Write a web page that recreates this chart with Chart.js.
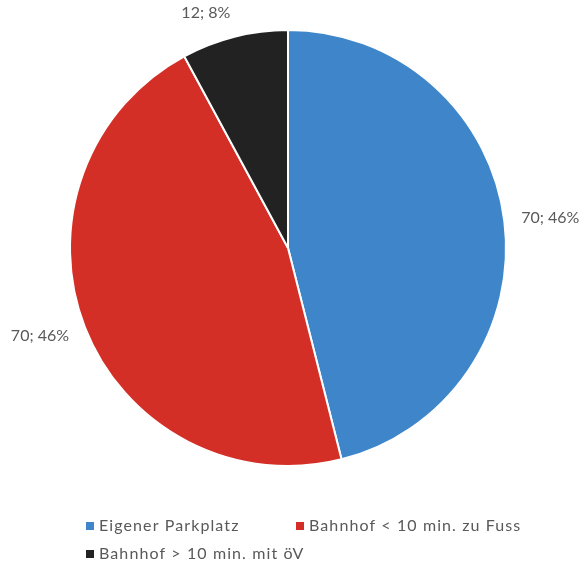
<!DOCTYPE html>
<html>
<head>
<meta charset="utf-8">
<script src="https://cdn.jsdelivr.net/npm/chart.js@4"></script>
<style>
  html, body { margin: 0; padding: 0; background: #fff; }
  #wrap { width: 584px; height: 568px; }
</style>
</head>
<body>
<div id="wrap"><canvas id="chart" width="584" height="568"></canvas></div>
<script>
// Anbindung: Anzahl Antworten je Kategorie
const categories = ['Eigener Parkplatz', 'Bahnhof < 10 min. zu Fuss', 'Bahnhof > 10 min. mit öV'];
const counts = [70, 70, 12];
const colors = ['#3e86c9', '#d42f27', '#222222'];

const total = counts.reduce((a, v) => a + v, 0);
const textColor = '#595959';

// value; percent labels outside each slice
const outsideLabels = {
    id: 'outsideLabels',
    afterDatasetsDraw(chart) {
        const ctx = chart.ctx;
        const meta = chart.getDatasetMeta(0);
        ctx.save();
        ctx.font = '16px Lato, sans-serif';
        ctx.fillStyle = textColor;
        ctx.textBaseline = 'middle';
        meta.data.forEach((arc, i) => {
            const mid = (arc.startAngle + arc.endAngle) / 2;
            const r = arc.outerRadius + 17;
            const ax = arc.x + Math.cos(mid) * r;
            const ay = arc.y + Math.sin(mid) * r;
            const text = counts[i] + '; ' + Math.round(counts[i] / total * 100) + '%';
            ctx.textAlign = Math.cos(mid) >= 0 ? 'left' : 'right';
            ctx.fillText(text, ax, ay + Math.sin(mid) * 8);
        });
        ctx.restore();
    }
};

// two-column legend below the pie
const bottomLegend = {
    id: 'bottomLegend',
    afterDraw(chart) {
        const ctx = chart.ctx;
        const slots = [[86, 526], [296, 526], [86, 554]];
        ctx.save();
        ctx.font = '16px Lato, sans-serif';
        ctx.letterSpacing = '1.1px';
        ctx.textBaseline = 'middle';
        ctx.textAlign = 'left';
        categories.forEach((name, i) => {
            const [x, y] = slots[i];
            ctx.fillStyle = colors[i];
            ctx.fillRect(x, y - 4, 8, 8);
            ctx.fillStyle = textColor;
            ctx.fillText(name, x + 13, y);
        });
        ctx.restore();
    }
};

new Chart(document.getElementById('chart'), {
    type: 'pie',
    data: {
        labels: categories,
        datasets: [{
            data: counts,
            backgroundColor: colors,
            borderColor: '#ffffff',
            borderWidth: 2
        }]
    },
    options: {
        responsive: false,
        animation: false,
        layout: { padding: { top: 29, bottom: 101, left: 69, right: 77 } },
        plugins: {
            legend: { display: false },
            tooltip: { enabled: false }
        }
    },
    plugins: [outsideLabels, bottomLegend]
});
</script>
</body>
</html>
